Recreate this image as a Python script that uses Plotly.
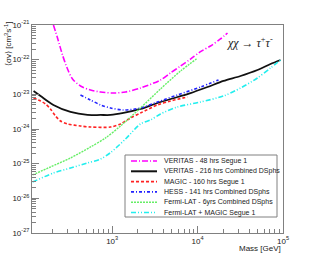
import plotly.graph_objects as go

# ---------------- data ----------------
veritas48_mass = [205, 229, 262, 300, 343, 425, 557, 730, 1035, 1432, 2143, 3679, 4817, 6310, 8260, 10810, 14160, 18530, 22390]
veritas48_sv = [1.0e-21, 4.22e-22, 1.36e-22, 5.38e-23, 2.77e-23, 1.74e-23, 1.33e-23, 1.17e-23, 1.09e-23, 1.17e-23, 1.52e-23,
                2.59e-23, 4.13e-23, 6.56e-23, 1.04e-22, 1.70e-22, 2.48e-22, 3.95e-22, 5.88e-22]

veritas216_mass = [120, 145, 205, 325, 514, 730, 955, 1356, 2143, 3390, 5820, 8260, 13060, 20100, 31800, 50200, 71400, 93500]
veritas216_sv = [1.25e-23, 8.96e-24, 4.93e-24, 3.10e-24, 2.54e-24, 2.54e-24, 2.54e-24, 2.90e-24, 3.78e-24, 5.62e-24, 8.38e-24,
                 1.09e-23, 1.63e-23, 2.43e-23, 3.38e-23, 5.04e-23, 7.50e-23, 9.78e-23]

magic_mass = [120, 145, 166, 189, 217, 248, 300, 425, 557, 955, 1251, 1637, 2143, 3390, 4817, 7620]
magic_sv = [7.84e-24, 6.43e-24, 5.26e-24, 3.78e-24, 2.37e-24, 1.70e-24, 1.40e-24, 1.22e-24, 1.14e-24, 1.14e-24, 1.40e-24,
            2.08e-24, 2.90e-24, 4.93e-24, 6.43e-24, 8.38e-24]

hess_mass = [425, 557, 730, 955, 1356, 2143, 3390, 5820, 10810, 17570]
hess_sv = [9.57e-24, 6.87e-24, 4.93e-24, 4.04e-24, 3.53e-24, 4.04e-24, 6.01e-24, 9.57e-24, 1.63e-23, 2.59e-23]

fermi_mass = [117, 189, 325, 557, 835, 1251, 2143, 3679, 6310, 9710]
fermi_sv = [4.72e-26, 8.02e-26, 1.46e-25, 3.03e-25, 5.51e-25, 1.22e-24, 4.04e-24, 1.43e-23, 4.71e-23, 1.05e-22]

fm_mass = [117, 205, 325, 514, 730, 955, 1432, 2143, 2806, 3679, 5820, 10810, 20100, 31800, 50200, 71400, 93500]
fm_sv = [2.96e-26, 5.38e-26, 7.50e-26, 1.05e-25, 1.36e-25, 2.08e-25, 5.14e-25, 1.40e-24, 1.82e-24, 2.71e-24, 4.32e-24,
         6.01e-24, 8.96e-24, 1.52e-23, 2.96e-23, 5.75e-23, 9.78e-23]

series_names = ["VERITAS - 48 hrs Segue 1", "VERITAS - 216 hrs Combined DSphs", "MAGIC - 160 hrs Segue 1",
                "HESS - 141 hrs Combined DSphs", "Fermi-LAT - 6yrs Combined DSphs", "Fermi-LAT + MAGIC Segue 1"]

y_tick_vals = [1e-27, 1e-26, 1e-25, 1e-24, 1e-23, 1e-22, 1e-21]
y_tick_text = ["10<sup>-27</sup>", "10<sup>-26</sup>", "10<sup>-25</sup>", "10<sup>-24</sup>",
               "10<sup>-23</sup>", "10<sup>-22</sup>", "10<sup>-21</sup>"]
x_tick_vals = [1e3, 1e4, 1e5]
x_tick_text = ["10<sup>3</sup>", "10<sup>4</sup>", "10<sup>5</sup>"]

# ---------------- styles ----------------
styles = [
    dict(color="#ff00ff", width=1.6, dash="6px,2px,1px,2px"),
    dict(color="#111111", width=1.8, dash="solid"),
    dict(color="#ff2222", width=1.6, dash="3px,2px"),
    dict(color="#2222ff", width=1.6, dash="3px,2px,1px,2px"),
    dict(color="#66ee66", width=1.4, dash="2px,1px"),
    dict(color="#22eeee", width=1.6, dash="5px,2px,1px,2px,1px,2px"),
]
data = [(veritas48_mass, veritas48_sv), (veritas216_mass, veritas216_sv), (magic_mass, magic_sv),
        (hess_mass, hess_sv), (fermi_mass, fermi_sv), (fm_mass, fm_sv)]

fig = go.Figure()
for (mx, sv), name, st in zip(data, series_names, styles):
    fig.add_trace(go.Scatter(x=mx, y=sv, mode="lines", name=name, line=dict(shape="spline", smoothing=0.8, **st),
                             showlegend=False, hoverinfo="skip"))

# minor ticks
y_minor = [k * 10.0 ** e for e in range(-27, -21) for k in range(2, 10)]
x_minor = [k * 10.0 ** e for e in range(2, 5) for k in range(2, 10)]

axcol = "#808080"
fig.update_xaxes(type="log", range=[2.061, 5.0], showgrid=False, zeroline=False,
                 showline=True, linecolor=axcol, linewidth=1, mirror=True,
                 tickmode="array", tickvals=x_tick_vals, ticktext=x_tick_text,
                 ticks="inside", ticklen=7, tickcolor=axcol, tickwidth=1,
                 tickfont=dict(family="Liberation Sans, Arial", size=8, color="#222"),
                 minor=dict(tickvals=x_minor, ticks="inside", ticklen=4, tickcolor=axcol, tickwidth=1, showgrid=False))
fig.update_yaxes(type="log", range=[-27, -21], showgrid=False, zeroline=False,
                 showline=True, linecolor=axcol, linewidth=1, mirror=True,
                 tickmode="array", tickvals=y_tick_vals, ticktext=y_tick_text,
                 ticks="inside", ticklen=7, tickcolor=axcol, tickwidth=1,
                 tickfont=dict(family="Liberation Sans, Arial", size=8, color="#222"),
                 minor=dict(tickvals=y_minor, ticks="inside", ticklen=4, tickcolor=axcol, tickwidth=1, showgrid=False))

L, R, T, B = 32, 32, 25, 26
pw, ph = 315 - L - R, 259 - T - B


def px(x):
    return (x - L) / pw


def py(y):
    return (259 - B - y) / ph


# legend box (drawn manually to match compact ROOT legend)
fig.add_shape(type="rect", xref="paper", yref="paper", x0=px(125), x1=px(277), y0=py(217), y1=py(155),
              line=dict(color="#808080", width=1), fillcolor="white", layer="above")
rows = [161, 171.3, 181.6, 191.9, 202.2, 212.5]
for name, st, ry in zip(series_names, styles, rows):
    fig.add_shape(type="line", xref="paper", yref="paper", x0=px(131), x1=px(157), y0=py(ry), y1=py(ry),
                  line=dict(color=st["color"], width=2 if st["dash"] == "solid" else 1.6, dash=st["dash"]),
                  layer="above")
    fig.add_annotation(xref="paper", yref="paper", x=px(162), y=py(ry), text=name, showarrow=False,
                       xanchor="left", yanchor="middle", font=dict(family="Liberation Sans, Arial", size=7, color="#222"))

# process label
fig.add_annotation(xref="paper", yref="paper", x=px(250), y=py(42),
                   text="<i>χχ</i> → <i>τ</i><sup>+</sup><i>τ</i><sup>-</sup>", showarrow=False,
                   xanchor="center", yanchor="middle", font=dict(family="Liberation Serif, Times New Roman", size=12, color="#222"))

# axis titles
fig.add_annotation(xref="paper", yref="paper", x=px(8), y=py(20), text="⟨σv⟩ [cm<sup>3</sup>s<sup>-1</sup>]",
                   textangle=-90, showarrow=False, xanchor="center", yanchor="top",
                   font=dict(family="Liberation Sans, Arial", size=8, color="#222"))
fig.add_annotation(xref="paper", yref="paper", x=px(283), y=py(248), text="Mass [GeV]", showarrow=False,
                   xanchor="right", yanchor="middle", font=dict(family="Liberation Sans, Arial", size=8, color="#222"))

fig.update_layout(width=315, height=259, margin=dict(l=L, r=R, t=T, b=B),
                  plot_bgcolor="white", paper_bgcolor="white", showlegend=False, hovermode=False)

fig.write_html("out.html", config={"displayModeBar": False, "staticPlot": True},
               post_script="document.body.style.margin='0';document.body.style.padding='0';")
